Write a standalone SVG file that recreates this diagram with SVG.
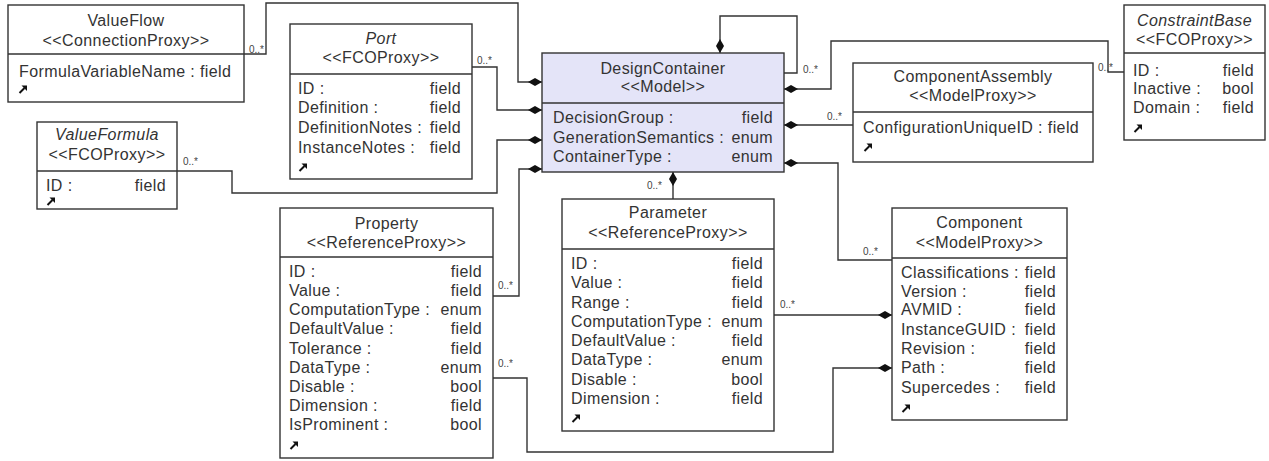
<svg xmlns="http://www.w3.org/2000/svg" width="1269" height="461" viewBox="0 0 1269 461">
  <style>
    .box { fill: #ffffff; stroke: #333333; stroke-width: 1.4; }
    .model { fill: #e4e4f8; }
    .sep { stroke: #333333; stroke-width: 1.4; }
    .t { font-family: "Liberation Sans", Arial, sans-serif; font-size: 16px; fill: #333333; letter-spacing: 0.4px; }
    .c { text-anchor: middle; }
    .i { font-style: italic; }
    .r { text-anchor: end; }
    .edge { fill: none; stroke: #333333; stroke-width: 1.4; marker-end: url(#diamond); }
    .lbl { font-family: "Liberation Sans", Arial, sans-serif; font-size: 10px; fill: #444444; }
  </style>
  <defs>
    <marker id="diamond" markerUnits="userSpaceOnUse" viewBox="0 0 14 8" refX="14" refY="4" markerWidth="14" markerHeight="8" orient="auto">
      <path d="M0,4 L7,0 L14,4 L7,8 Z" fill="#111111"/>
    </marker>
    <g id="jump">
      <path d="M0.5,8 L5.5,3" stroke="#111111" stroke-width="2" fill="none"/>
      <path d="M2.5,0.5 L8,0.5 L8,6 Z" fill="#111111"/>
    </g>
  </defs>

  <!-- connectors -->
  <g id="connectors">
    <path class="edge" d="M244,54 H266 V3 H518 V82 H542"/>
    <path class="edge" d="M472,67 H497 V110 H542"/>
    <path class="edge" d="M177,171 H232 V193 H497 V140 H542"/>
    <path class="edge" d="M493,296 H519 V169 H542"/>
    <path class="edge" d="M784,73 H797 V16 H720 V53"/>
    <path class="edge" d="M1124,72 H1108 V41 H831 V89 H784"/>
    <path class="edge" d="M853,125 H784"/>
    <path class="edge" d="M892,260 H838 V163 H784"/>
    <path class="edge" d="M673,199 V172"/>
    <path class="edge" d="M774,315 H892"/>
    <path class="edge" d="M493,378 H527 V452 H833 V368 H892"/>
    <text class="lbl" x="249" y="53">0..*</text>
    <text class="lbl" x="477" y="64">0..*</text>
    <text class="lbl" x="183" y="165">0..*</text>
    <text class="lbl" x="498" y="289">0..*</text>
    <text class="lbl" x="803" y="73">0..*</text>
    <text class="lbl" x="1098" y="71">0..*</text>
    <text class="lbl" x="827" y="120">0..*</text>
    <text class="lbl" x="863" y="255">0..*</text>
    <text class="lbl" x="647" y="189">0..*</text>
    <text class="lbl" x="780" y="308">0..*</text>
    <text class="lbl" x="498" y="367">0..*</text>
  </g>

  <!-- ValueFlow -->
  <g id="ValueFlow">
    <rect class="box" x="8" y="5" width="236" height="97"/>
    <line class="sep" x1="8" y1="54" x2="244" y2="54"/>
    <text class="t c" x="126" y="26">ValueFlow</text>
    <text class="t c" x="126" y="46">&lt;&lt;ConnectionProxy&gt;&gt;</text>
    <text class="t" x="19" y="77">FormulaVariableName : field</text>
    <use href="#jump" x="19" y="85"/>
  </g>

  <!-- Port -->
  <g id="Port">
    <rect class="box" x="290" y="24" width="182" height="155"/>
    <line class="sep" x1="290" y1="74" x2="472" y2="74"/>
    <text class="t c i" x="381" y="44">Port</text>
    <text class="t c" x="381" y="63">&lt;&lt;FCOProxy&gt;&gt;</text>
    <text class="t" x="298" y="94">ID :</text><text class="t r" x="461" y="94">field</text>
    <text class="t" x="298" y="113">Definition :</text><text class="t r" x="461" y="113">field</text>
    <text class="t" x="298" y="133">DefinitionNotes :</text><text class="t r" x="461" y="133">field</text>
    <text class="t" x="298" y="153">InstanceNotes :</text><text class="t r" x="461" y="153">field</text>
    <use href="#jump" x="299" y="163"/>
  </g>

  <!-- DesignContainer -->
  <g id="DesignContainer">
    <rect class="box model" x="542" y="53" width="242" height="119"/>
    <line class="sep" x1="542" y1="103" x2="784" y2="103"/>
    <text class="t c" x="663" y="74">DesignContainer</text>
    <text class="t c" x="663" y="92">&lt;&lt;Model&gt;&gt;</text>
    <text class="t" x="553" y="123">DecisionGroup :</text><text class="t r" x="773" y="123">field</text>
    <text class="t" x="553" y="143">GenerationSemantics :</text><text class="t r" x="773" y="143">enum</text>
    <text class="t" x="553" y="162">ContainerType :</text><text class="t r" x="773" y="162">enum</text>
  </g>

  <!-- ConstraintBase -->
  <g id="ConstraintBase">
    <rect class="box" x="1124" y="5" width="141" height="135"/>
    <line class="sep" x1="1124" y1="53" x2="1265" y2="53"/>
    <text class="t c i" x="1194.5" y="26">ConstraintBase</text>
    <text class="t c" x="1194.5" y="45">&lt;&lt;FCOProxy&gt;&gt;</text>
    <text class="t" x="1133" y="76">ID :</text><text class="t r" x="1254" y="76">field</text>
    <text class="t" x="1133" y="94">Inactive :</text><text class="t r" x="1254" y="94">bool</text>
    <text class="t" x="1133" y="113">Domain :</text><text class="t r" x="1254" y="113">field</text>
    <use href="#jump" x="1134" y="124"/>
  </g>

  <!-- ComponentAssembly -->
  <g id="ComponentAssembly">
    <rect class="box" x="853" y="63" width="240" height="99"/>
    <line class="sep" x1="853" y1="112" x2="1093" y2="112"/>
    <text class="t c" x="973" y="82">ComponentAssembly</text>
    <text class="t c" x="973" y="101">&lt;&lt;ModelProxy&gt;&gt;</text>
    <text class="t" x="863" y="133">ConfigurationUniqueID : field</text>
    <use href="#jump" x="864" y="143"/>
  </g>

  <!-- ValueFormula -->
  <g id="ValueFormula">
    <rect class="box" x="37" y="122" width="140" height="87"/>
    <line class="sep" x1="37" y1="171" x2="177" y2="171"/>
    <text class="t c i" x="107" y="140">ValueFormula</text>
    <text class="t c" x="107" y="160">&lt;&lt;FCOProxy&gt;&gt;</text>
    <text class="t" x="46" y="191">ID :</text><text class="t r" x="166" y="191">field</text>
    <use href="#jump" x="47" y="197"/>
  </g>

  <!-- Property -->
  <g id="Property">
    <rect class="box" x="280" y="208" width="213" height="250"/>
    <line class="sep" x1="280" y1="257" x2="493" y2="257"/>
    <text class="t c" x="386.5" y="229">Property</text>
    <text class="t c" x="386.5" y="248">&lt;&lt;ReferenceProxy&gt;&gt;</text>
    <text class="t" x="289" y="277">ID :</text><text class="t r" x="482" y="277">field</text>
    <text class="t" x="289" y="296">Value :</text><text class="t r" x="482" y="296">field</text>
    <text class="t" x="289" y="315">ComputationType :</text><text class="t r" x="482" y="315">enum</text>
    <text class="t" x="289" y="334">DefaultValue :</text><text class="t r" x="482" y="334">field</text>
    <text class="t" x="289" y="354">Tolerance :</text><text class="t r" x="482" y="354">field</text>
    <text class="t" x="289" y="373">DataType :</text><text class="t r" x="482" y="373">enum</text>
    <text class="t" x="289" y="392">Disable :</text><text class="t r" x="482" y="392">bool</text>
    <text class="t" x="289" y="411">Dimension :</text><text class="t r" x="482" y="411">field</text>
    <text class="t" x="289" y="430">IsProminent :</text><text class="t r" x="482" y="430">bool</text>
    <use href="#jump" x="290" y="441"/>
  </g>

  <!-- Parameter -->
  <g id="Parameter">
    <rect class="box" x="562" y="199" width="212" height="232"/>
    <line class="sep" x1="562" y1="249" x2="774" y2="249"/>
    <text class="t c" x="668" y="218">Parameter</text>
    <text class="t c" x="668" y="238">&lt;&lt;ReferenceProxy&gt;&gt;</text>
    <text class="t" x="571" y="269">ID :</text><text class="t r" x="763" y="269">field</text>
    <text class="t" x="571" y="288">Value :</text><text class="t r" x="763" y="288">field</text>
    <text class="t" x="571" y="308">Range :</text><text class="t r" x="763" y="308">field</text>
    <text class="t" x="571" y="327">ComputationType :</text><text class="t r" x="763" y="327">enum</text>
    <text class="t" x="571" y="346">DefaultValue :</text><text class="t r" x="763" y="346">field</text>
    <text class="t" x="571" y="365">DataType :</text><text class="t r" x="763" y="365">enum</text>
    <text class="t" x="571" y="385">Disable :</text><text class="t r" x="763" y="385">bool</text>
    <text class="t" x="571" y="404">Dimension :</text><text class="t r" x="763" y="404">field</text>
    <use href="#jump" x="572" y="414"/>
  </g>

  <!-- Component -->
  <g id="Component">
    <rect class="box" x="892" y="208" width="175" height="212"/>
    <line class="sep" x1="892" y1="258" x2="1067" y2="258"/>
    <text class="t c" x="979.5" y="228">Component</text>
    <text class="t c" x="979.5" y="248">&lt;&lt;ModelProxy&gt;&gt;</text>
    <text class="t" x="901" y="278">Classifications :</text><text class="t r" x="1056" y="278">field</text>
    <text class="t" x="901" y="297">Version :</text><text class="t r" x="1056" y="297">field</text>
    <text class="t" x="901" y="315">AVMID :</text><text class="t r" x="1056" y="315">field</text>
    <text class="t" x="901" y="335">InstanceGUID :</text><text class="t r" x="1056" y="335">field</text>
    <text class="t" x="901" y="354">Revision :</text><text class="t r" x="1056" y="354">field</text>
    <text class="t" x="901" y="373">Path :</text><text class="t r" x="1056" y="373">field</text>
    <text class="t" x="901" y="393">Supercedes :</text><text class="t r" x="1056" y="393">field</text>
    <use href="#jump" x="902" y="404"/>
  </g>
</svg>
